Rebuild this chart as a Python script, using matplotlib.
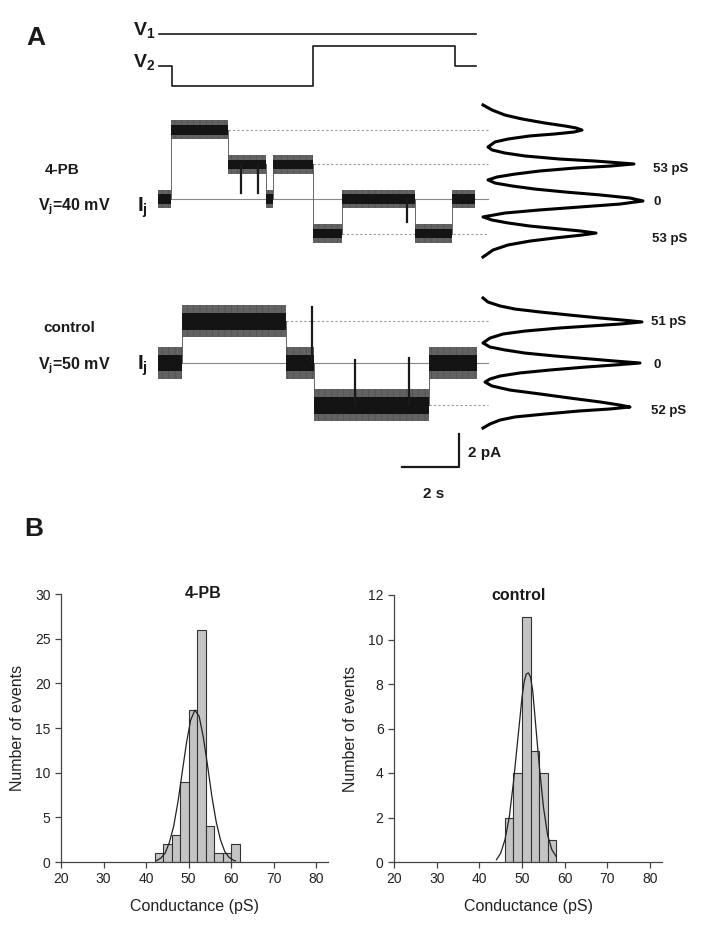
import matplotlib
matplotlib.use("Agg")
import matplotlib.pyplot as plt

W, H = 701, 931

# ---- panel A: voltage protocol (mV, V2 relative to holding) ----
V_TIMES = [0.035, 0.49, 5.44, 10.42, 11.16]
V2_LEVELS = [0, -40, 40, 0]

# ---- panel A: 4-PB single-channel trace (s, pA) ----
PB_TIMES = [0.0, 0.46, 2.46, 3.79, 4.04, 5.44, 6.46, 9.02, 10.32, 11.12]
PB_LEVELS = [0.0, 4.24, 2.12, 0.0, 2.12, -2.12, 0.0, -2.12, 0.0]
PB_SPIKE_T = [2.91, 3.51, 8.74]
PB_SPIKE_FROM = [2.12, 2.12, 0.0]
PB_SPIKE_TO = [0.37, 0.37, -1.41]
PB_REF_LEVELS = [4.24, 2.12, -2.12]
PB_REF_START = [2.46, 5.44, 6.46]

# all-points histogram of the 4-PB trace (pA, counts a.u.)
PB_HIST_I = [5.77, 5.46, 5.15, 4.91, 4.66, 4.48, 4.36, 4.23, 4.11, 3.99, 3.87,
             3.68, 3.50, 3.19, 3.01, 2.82, 2.64, 2.45, 2.33, 2.15, 2.02, 1.90,
             1.72, 1.53, 1.35, 1.17, 0.98, 0.80, 0.61, 0.43, 0.25, 0.06, -0.12,
             -0.31, -0.49, -0.67, -0.86, -1.10, -1.29, -1.47, -1.66, -1.84,
             -1.96, -2.09, -2.21, -2.39, -2.58, -2.82, -3.13, -3.56]
PB_HIST_N = [0, 9, 22, 39, 62, 82, 93, 99, 91, 72, 47, 25, 12, 5, 9, 22, 42,
             77, 112, 151, 127, 92, 57, 32, 14, 5, 12, 29, 52, 82, 117, 147,
             160, 137, 97, 57, 22, 0, 9, 25, 47, 77, 97, 113, 99, 72, 47, 25,
             10, 0]

# ---- panel A: control trace (s, pA) ----
CT_TIMES = [0.0, 0.84, 4.49, 5.47, 9.50, 11.20]
CT_LEVELS = [0.0, 2.55, 0.0, -2.60, 0.0]
CT_SPIKE_T = [5.40, 6.90, 8.80]
CT_SPIKE_FROM = [0.0, -2.60, -2.60]
CT_SPIKE_TO = [3.44, 0.2, 0.3]
CT_REF_LEVELS = [2.55, -2.60]
CT_REF_START = [4.49, 9.50]

CT_HIST_I = [3.99, 3.74, 3.50, 3.31, 3.13, 2.94, 2.76, 2.64, 2.52, 2.39, 2.27,
             2.15, 1.96, 1.78, 1.53, 1.23, 0.98, 0.80, 0.61, 0.43, 0.25, 0.12,
             0.00, -0.12, -0.25, -0.43, -0.61, -0.80, -0.98, -1.17, -1.41,
             -1.66, -1.90, -2.15, -2.39, -2.58, -2.70, -2.82, -2.94, -3.13,
             -3.31, -3.50, -3.74, -3.99]
CT_HIST_N = [0, 5, 17, 32, 57, 87, 117, 139, 159, 137, 107, 77, 42, 20, 7, 0,
             7, 22, 42, 72, 107, 132, 157, 132, 102, 67, 37, 17, 7, 2, 9, 27,
             57, 87, 117, 137, 147, 127, 97, 62, 32, 17, 7, 0]

# ---- panel B: conductance histograms ----
PB_BIN_LEFT = [42, 44, 46, 48, 50, 52, 54, 56, 58, 60]
PB_COUNTS = [1, 2, 3, 9, 17, 26, 4, 1, 1, 2]
PB_FIT_X = [42.5, 43.5, 44.5, 45.5, 46.5, 47.5, 48.5, 49.5, 50.5, 51.5, 52.5,
            53.5, 54.5, 55.5, 56.5, 57.5, 58.5, 59.5, 60.5, 61.0]
PB_FIT_Y = [0.17, 0.44, 1.0, 2.2, 4.0, 6.7, 10.0, 13.3, 15.9, 17.0, 16.3,
            13.9, 10.7, 7.3, 4.5, 2.5, 1.2, 0.53, 0.21, 0.13]

CT_BIN_LEFT = [46, 48, 50, 52, 54, 56]
CT_COUNTS = [2, 4, 11, 5, 4, 1]
CT_FIT_X = [44, 45, 46, 47, 48, 49, 50, 50.5, 51, 51.5, 52, 52.5, 53, 54, 55,
            56, 57, 58]
CT_FIT_Y = [0.1, 0.4, 1.0, 2.0, 3.6, 5.5, 7.4, 8.1, 8.45, 8.5, 8.3, 7.7, 6.6,
            4.4, 2.5, 1.2, 0.55, 0.25]

plt.rcParams["font.family"] = ["Liberation Sans", "DejaVu Sans"]
plt.rcParams["mathtext.fontset"] = "custom"
plt.rcParams["mathtext.rm"] = "Liberation Sans"
plt.rcParams["mathtext.bf"] = "Liberation Sans:bold"
plt.rcParams["mathtext.it"] = "Liberation Sans:italic"
plt.rcParams["hatch.linewidth"] = 0.8

fig = plt.figure(figsize=(W / 100, H / 100), dpi=100)


def px_axes(x0, y0, x1, y1):
    return fig.add_axes([x0 / W, 1 - y1 / H, (x1 - x0) / W, (y1 - y0) / H])


def px_text(x, y, s, **kw):
    fig.text(x / W, 1 - y / H, s, **kw)


TRACE_XLIM = (-0.281, 11.649)
REF_END = 11.58
INK = "#1a1a1a"

# protocol
ax_v = px_axes(150, 15, 490, 95)
ax_v.set_xlim(*TRACE_XLIM)
ax_v.set_ylim(-57.3, 100.8)
ax_v.axis("off")
V1_OFFSET = 62.3
ax_v.plot([V_TIMES[0], V_TIMES[-1]], [V1_OFFSET, V1_OFFSET], color=INK, lw=1.2)
ax_v.step(V_TIMES, V2_LEVELS + [V2_LEVELS[-1]], where="post", color=INK, lw=1.2)


def draw_trace(ax, times, levels, spike_t, spike_from, spike_to,
               ref_levels, ref_start, outer, inner):
    ax.set_xlim(*TRACE_XLIM)
    ax.axis("off")
    ax.plot([times[0], REF_END], [0, 0], color="#888888", lw=0.8, zorder=1)
    for lv, t0 in zip(ref_levels, ref_start):
        ax.plot([t0, REF_END], [lv, lv], color="#999999", lw=0.8,
                dashes=(2, 2), zorder=1)
    ax.step(times, levels + [levels[-1]], where="post", color="#666666",
            lw=0.7, zorder=2)
    for t0, t1, lv in zip(times[:-1], times[1:], levels):
        ax.fill_between([t0, t1], lv - outer, lv + outer, facecolor="none",
                        edgecolor="#555555", hatch="|" * 14, lw=0, zorder=3)
        ax.fill_between([t0, t1], lv - inner, lv + inner, color="#141414",
                        lw=0, zorder=4)
    for t, a, b in zip(spike_t, spike_from, spike_to):
        ax.plot([t, t], [a, b], color=INK, lw=1.6, zorder=5)


def draw_aph(ax, cur, cnt):
    ax.set_xlim(-8, 167)
    ax.axis("off")
    ax.plot(cnt, cur, color="black", lw=2.2)


ax_t1 = px_axes(150, 100, 490, 265)
ax_t1.set_ylim(-4.049, 6.074)
draw_trace(ax_t1, PB_TIMES, PB_LEVELS, PB_SPIKE_T, PB_SPIKE_FROM, PB_SPIKE_TO,
           PB_REF_LEVELS, PB_REF_START, 0.58, 0.30)
ax_h1 = px_axes(475, 100, 650, 265)
ax_h1.set_ylim(-4.049, 6.074)
draw_aph(ax_h1, PB_HIST_I, PB_HIST_N)

ax_t2 = px_axes(150, 290, 490, 475)
ax_t2.set_ylim(-6.871, 4.479)
draw_trace(ax_t2, CT_TIMES, CT_LEVELS, CT_SPIKE_T, CT_SPIKE_FROM, CT_SPIKE_TO,
           CT_REF_LEVELS, CT_REF_START, 0.98, 0.50)
ax_h2 = px_axes(475, 290, 650, 475)
ax_h2.set_ylim(-6.871, 4.479)
draw_aph(ax_h2, CT_HIST_I, CT_HIST_N)

# scale bar: 2 s, 2 pA
SB_T0, SB_I0 = 8.56, -6.38
ax_t2.plot([SB_T0, SB_T0 + 2, SB_T0 + 2], [SB_I0, SB_I0, SB_I0 + 2],
           color=INK, lw=1.6, clip_on=False)

bold = dict(fontweight="bold", color=INK)
px_text(36, 45, "A", fontsize=19, ha="center", va="baseline", **bold)
px_text(34, 536, "B", fontsize=19, ha="center", va="baseline", **bold)
px_text(133, 35, r"$\mathbf{V_1}$", fontsize=14, va="baseline", **bold)
px_text(133, 67, r"$\mathbf{V_2}$", fontsize=14, va="baseline", **bold)

px_text(45, 174, "4-PB", fontsize=11, va="baseline", **bold)
px_text(38, 210, r"$\mathbf{V_j}$=40 mV", fontsize=11.5, va="baseline", **bold)
px_text(137, 212, r"$\mathbf{I_j}$", fontsize=15, va="baseline", **bold)
px_text(43, 332, "control", fontsize=11, va="baseline", **bold)
px_text(38, 369, r"$\mathbf{V_j}$=50 mV", fontsize=11.5, va="baseline", **bold)
px_text(137, 370, r"$\mathbf{I_j}$", fontsize=15, va="baseline", **bold)

for x, y, s in [(653, 172, "53 pS"), (653, 205, "0"), (652, 242, "53 pS"),
                (651, 325, "51 pS"), (653, 368, "0"), (651, 414, "52 pS")]:
    px_text(x, y, s, fontsize=9.5, va="baseline", **bold)
px_text(468, 457, "2 pA", fontsize=11, va="baseline", **bold)
px_text(423, 498, "2 s", fontsize=11, va="baseline", **bold)


def draw_hist(ax, left, counts, fx, fy, ymax, ystep, title, title_x):
    ax.bar(left, counts, width=2, align="edge", color="#c4c4c4",
           edgecolor="#333333", lw=0.8, zorder=2)
    ax.plot(fx, fy, color="#222222", lw=0.9, zorder=3)
    ax.set_xlim(20, 82.8)
    ax.set_ylim(0, ymax)
    ax.set_xticks(range(20, 81, 10))
    ax.set_yticks(range(0, ymax + 1, ystep))
    for s in ("top", "right"):
        ax.spines[s].set_visible(False)
    for s in ("left", "bottom"):
        ax.spines[s].set_color("#444444")
        ax.spines[s].set_linewidth(0.9)
    ax.tick_params(direction="out", length=4, width=0.9, color="#444444",
                   labelsize=10, labelcolor="#222222")
    ax.set_xlabel("Conductance (pS)", fontsize=11.5, color="#222222",
                  labelpad=9)
    ax.set_ylabel("Number of events", fontsize=11.5, color="#222222",
                  labelpad=7)
    ax.text(title_x, ymax, title, fontsize=11.5, fontweight="bold",
            ha="center", va="center", color=INK)


ax_b1 = px_axes(61, 594, 328, 862)
draw_hist(ax_b1, PB_BIN_LEFT, PB_COUNTS, PB_FIT_X, PB_FIT_Y, 30, 5,
          "4-PB", 53.4)
ax_b2 = px_axes(394, 595, 662, 862)
draw_hist(ax_b2, CT_BIN_LEFT, CT_COUNTS, CT_FIT_X, CT_FIT_Y, 12, 2,
          "control", 49.2)

fig.savefig("out.png", dpi=100)
